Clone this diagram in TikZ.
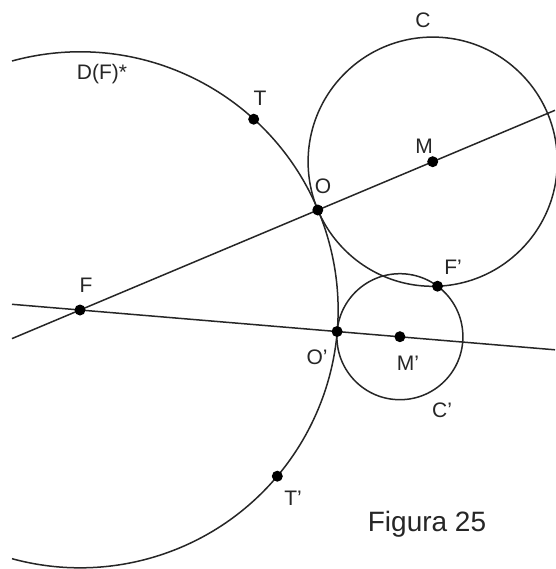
\documentclass[tikz,border=0pt]{standalone}
\usepackage{fontspec}
\setmainfont{Liberation Sans}
\begin{document}
\begin{tikzpicture}[x=1pt,y=-1pt,
  geo/.style={line width=1.5pt,black!85},
  pt/.style={circle,fill=black,inner sep=0pt,minimum size=11pt},
  lbl/.style={inner sep=0pt,font=\fontsize{21}{21}\selectfont,text=black!85},
  cap25/.style={inner sep=0pt,font=\fontsize{28}{28}\selectfont,text=black!85}]
\useasboundingbox[fill=white] (0,0) rectangle (555,569);
% points
\coordinate (Fc) at (80,310);
\coordinate (L1a) at (12,338.6);
\coordinate (L1b) at (555,110.3);
\coordinate (L2a) at (12,304.3);
\coordinate (L2b) at (555,349.8);
\coordinate (Ac) at (12,61);
% big arc D(F)*
\draw[geo] (Ac) arc[start angle=-105.3,end angle=105.3,radius=258];
% lines
\draw[geo] (L1a) -- (L1b);
\draw[geo] (L2a) -- (L2b);
% circles
\coordinate (Mc) at (432.7,161.7);
\coordinate (Mpc) at (399.9,336.7);
\draw[geo] (Mc) circle[radius=124.6];
\draw[geo] (Mpc) circle[radius=63];
% dots
\node[pt] (F) at (Fc) {};
\node[pt] (O) at (317.8,210.0) {};
\node[pt] (M) at (Mc) {};
\node[pt] (Op) at (337.1,331.5) {};
\node[pt] (Mp) at (Mpc) {};
\node[pt] (Fp) at (437.5,286.2) {};
\node[pt] (T) at (253.7,119.2) {};
\node[pt] (Tp) at (277.3,476.2) {};
% labels
\node[lbl] (lD) at (102,74) {D(F)*};
\node[lbl] (lT) at (260,98) {T};
\node[lbl] (lC) at (423,20) {C};
\node[lbl] (lM) at (424,146) {M};
\node[lbl] (lO) at (323,186) {O};
\node[lbl] (lF) at (86,285) {F};
\node[lbl] (lFp) at (453,267) {F'};
\node[lbl] (lOp) at (317,357) {O'};
\node[lbl] (lMp) at (408,363) {M'};
\node[lbl] (lCp) at (442,410) {C'};
\node[lbl] (lTp) at (293,498) {T'};
\node[cap25] (fig) at (427,524) {Figura 25};
\end{tikzpicture}
\end{document}
